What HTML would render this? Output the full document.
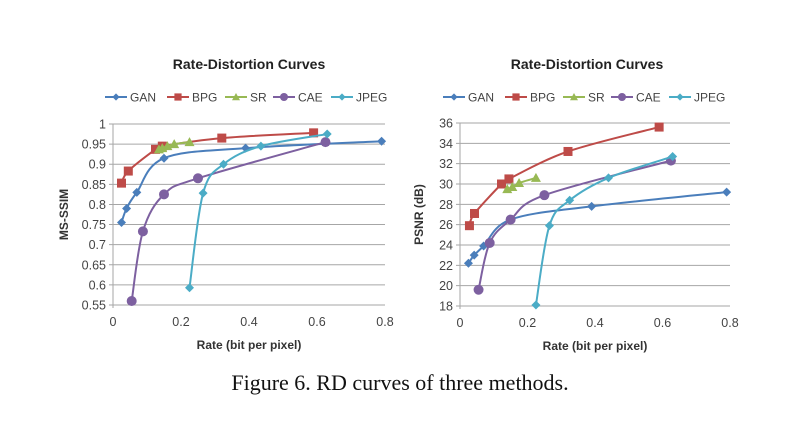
<!DOCTYPE html>
<html><head><meta charset="utf-8">
<style>
body{margin:0;background:#fff;}
svg{display:block;font-family:"Liberation Sans",sans-serif;}
</style></head>
<body>
<svg id="fig" width="800" height="422" viewBox="0 0 800 422">
<text x="400" y="390" text-anchor="middle" font-family="Liberation Serif,serif" font-size="22" fill="#111">Figure 6. RD curves of three methods.</text>
</svg>
<script>
const seriesNames=["GAN","BPG","SR","CAE","JPEG"];
const colors=["#4a7ebb","#be4b48","#98b954","#7d60a0","#4bacc6"];
const markers=["diamond","square","triangle","circle","diamond"];
const xTicks=[0,0.2,0.4,0.6,0.8];
const ssimTicks=[0.55,0.6,0.65,0.7,0.75,0.8,0.85,0.9,0.95,1];
const psnrTicks=[18,20,22,24,26,28,30,32,34,36];
const ganX1=[0.025,0.04,0.07,0.15,0.39,0.79];
const ganY1=[0.755,0.79,0.83,0.915,0.94,0.957];
const bpgX1=[0.025,0.045,0.125,0.145,0.32,0.59];
const bpgY1=[0.853,0.883,0.937,0.945,0.965,0.978];
const srX1=[0.135,0.145,0.16,0.18,0.225];
const srY1=[0.937,0.94,0.945,0.95,0.955];
const caeX1=[0.055,0.088,0.15,0.25,0.625];
const caeY1=[0.56,0.733,0.825,0.865,0.955];
const jpgX1=[0.225,0.265,0.325,0.435,0.63];
const jpgY1=[0.593,0.828,0.9,0.945,0.975];
const ganX2=[0.025,0.042,0.07,0.15,0.39,0.79];
const ganY2=[22.2,23.0,23.9,26.5,27.8,29.2];
const bpgX2=[0.028,0.043,0.123,0.145,0.32,0.59];
const bpgY2=[25.9,27.1,30.0,30.5,33.2,35.6];
const srX2=[0.14,0.155,0.175,0.225];
const srY2=[29.5,29.7,30.1,30.6];
const caeX2=[0.055,0.088,0.15,0.25,0.625];
const caeY2=[19.6,24.2,26.5,28.9,32.3];
const jpgX2=[0.225,0.265,0.325,0.44,0.63];
const jpgY2=[18.1,25.9,28.4,30.6,32.7];

const NS="http://www.w3.org/2000/svg";
const svg=document.getElementById('fig');
function mk(tag,attrs,parent){const e=document.createElementNS(NS,tag);for(const k in attrs)e.setAttribute(k,attrs[k]);(parent||svg).appendChild(e);return e;}

function chart(cfg){
  const g=mk('g',{});
  
  
  const xs=v=>cfg.x0+(v-0)/(0.8)*(cfg.x1-cfg.x0);
  const ys=v=>cfg.yb+(v-cfg.ymin)/(cfg.ymax-cfg.ymin)*(cfg.yt-cfg.yb);
  cfg.yTicks.forEach(t=>{
    const y=ys(t);
    const l=mk('line',{x1:cfg.x0-4,x2:cfg.x1,y1:y,y2:y,stroke:'#a6a6a6','stroke-width':1},g);
    
    
    const tx=mk('text',{x:cfg.x0-7,y:y+4.5,'text-anchor':'end','font-size':12.5,fill:'#444'},g);
    tx.textContent=cfg.fmt(t);
    
    
  });
  const ax=mk('line',{x1:cfg.x0,x2:cfg.x0,y1:cfg.yt,y2:cfg.yb+3,stroke:'#a6a6a6'},g);
  
  
  xTicks.forEach(t=>{
    const tx=mk('text',{x:xs(t),y:cfg.yb+21,'text-anchor':'middle','font-size':12.5,fill:'#444'},g);
    tx.textContent=String(t);
    
    
  });
  const xt=mk('text',{x:(cfg.x0+cfg.x1)/2,y:cfg.yb+44,'text-anchor':'middle','font-size':12,'font-weight':'bold',fill:'#333'},g);
  xt.textContent='Rate (bit per pixel)';
  
  
  const yc=(cfg.yt+cfg.yb)/2;
  const yt=mk('text',{x:cfg.ytx,y:yc,'text-anchor':'middle','font-size':12,'font-weight':'bold',fill:'#333',transform:`rotate(-90 ${cfg.ytx} ${yc})`},g);
  yt.textContent=cfg.ylabel;
  
  
  const ti=mk('text',{x:cfg.tcx,y:69,'text-anchor':'middle','font-size':14,'font-weight':'bold',fill:'#222'},g);
  ti.textContent='Rate-Distortion Curves';
  
  
  // legend
  const lw=[62,58,48,58,62];
  let lx=cfg.tcx-144;
  seriesNames.forEach((n,i)=>{
    const lg=mk('g',{},g);
    
    
    mk('line',{x1:lx,x2:lx+22,y1:97,y2:97,stroke:colors[i],'stroke-width':2},lg);
    drawMarker(lg,markers[i],lx+11,97,colors[i],0.8);
    const t=mk('text',{x:lx+25,y:101.5,'font-size':12,fill:'#444'},lg);
    t.textContent=n;
    lx+=lw[i];
  });
  cfg.data.forEach((d,i)=>{
    const pts=d[0].map((x,k)=>[xs(x),ys(d[1][k])]);
    const p=mk('path',{d:smooth(pts),fill:'none',stroke:colors[i],'stroke-width':2},g);
    
    
    pts.forEach(pt=>{
      const m=drawMarker(g,markers[i],pt[0],pt[1],colors[i],1);
      
      
    });
  });
}
function drawMarker(parent,type,x,y,c,s){
  if(type==='diamond')return mk('polygon',{points:`${x},${y-4.5*s} ${x+4.5*s},${y} ${x},${y+4.5*s} ${x-4.5*s},${y}`,fill:c},parent);
  if(type==='square')return mk('rect',{x:x-4.5*s,y:y-4.5*s,width:9*s,height:9*s,fill:c},parent);
  if(type==='triangle')return mk('polygon',{points:`${x},${y-5*s} ${x+5*s},${y+4*s} ${x-5*s},${y+4*s}`,fill:c},parent);
  return mk('circle',{cx:x,cy:y,r:5*s,fill:c},parent);
}
function smooth(p){
  let d=`M${p[0][0]},${p[0][1]}`;
  for(let i=0;i<p.length-1;i++){
    const p0=p[i-1]||p[i],p1=p[i],p2=p[i+1],p3=p[i+2]||p2,t=0.17;
    d+=` C${p1[0]+(p2[0]-p0[0])*t},${p1[1]+(p2[1]-p0[1])*t} ${p2[0]-(p3[0]-p1[0])*t},${p2[1]-(p3[1]-p1[1])*t} ${p2[0]},${p2[1]}`;
  }
  return d;
}
chart({name:'ms-ssim-chart',x0:113,x1:385,yt:124,yb:305,ymin:0.55,ymax:1,yTicks:ssimTicks,fmt:t=>String(t),ylabel:'MS-SSIM',ytx:68,tcx:249,
  data:[[ganX1,ganY1],[bpgX1,bpgY1],[srX1,srY1],[caeX1,caeY1],[jpgX1,jpgY1]]});
chart({name:'psnr-chart',x0:460,x1:730,yt:123,yb:306,ymin:18,ymax:36,yTicks:psnrTicks,fmt:t=>String(t),ylabel:'PSNR (dB)',ytx:423,tcx:587,
  data:[[ganX2,ganY2],[bpgX2,bpgY2],[srX2,srY2],[caeX2,caeY2],[jpgX2,jpgY2]]});
</script>
</body></html>
